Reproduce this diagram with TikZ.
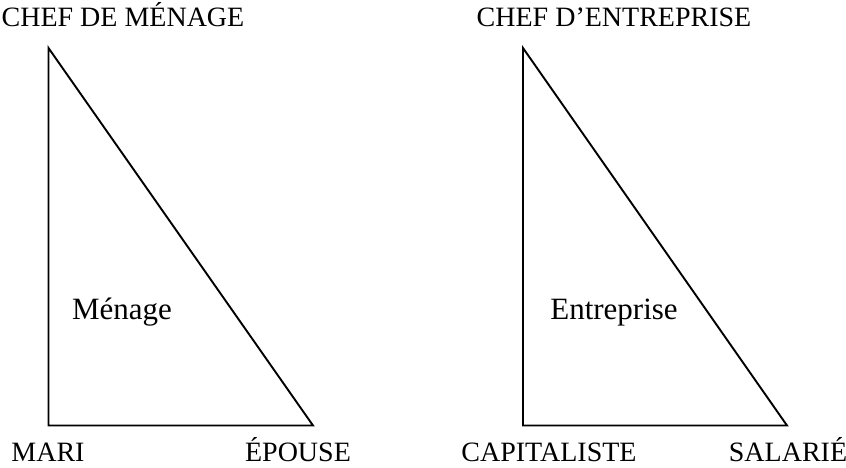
\documentclass[tikz,border=0pt]{standalone}
\usepackage{fontspec}
\setmainfont{Liberation Serif}
\begin{document}
\begin{tikzpicture}[x=1pt,y=-1pt,
  lbl/.style={anchor=base,inner sep=0pt,font=\fontsize{28}{32}\selectfont},
  botlbl/.style={lbl,text depth=0pt},
  inlbl/.style={anchor=base,inner sep=0pt,font=\fontsize{31}{35}\selectfont},
  tri/.style={draw=black,line width=1.9pt,line join=miter}]
\useasboundingbox (0,0) rectangle (846,467);
% left triangle
\coordinate (lt) at (48.5,48);
\coordinate (lb) at (48.5,425.5);
\coordinate (lr) at (313,425.5);
\draw[tri] (lt) -- (lb) -- (lr) -- cycle;
% right triangle
\coordinate (rt) at (523,48);
\coordinate (rb) at (523,425.5);
\coordinate (rr) at (787,425.5);
\draw[tri] (rt) -- (rb) -- (rr) -- cycle;
% labels
\node[lbl] (chefm) at (123,26) {CHEF DE MÉNAGE};
\node[inlbl] (menage) at (122,319) {Ménage};
\node[botlbl] (mari) at (48,461.5) {MARI};
\node[botlbl] (epouse) at (298,461.5) {ÉPOUSE};
\node[lbl] (chefe) at (614,26) {CHEF D’ENTREPRISE};
\node[inlbl] (entr) at (614,319) {Entreprise};
\node[botlbl] (capi) at (549,461.5) {CAPITALISTE};
\node[botlbl] (sal) at (788,461.5) {SALARIÉ};
\end{tikzpicture}
\end{document}
